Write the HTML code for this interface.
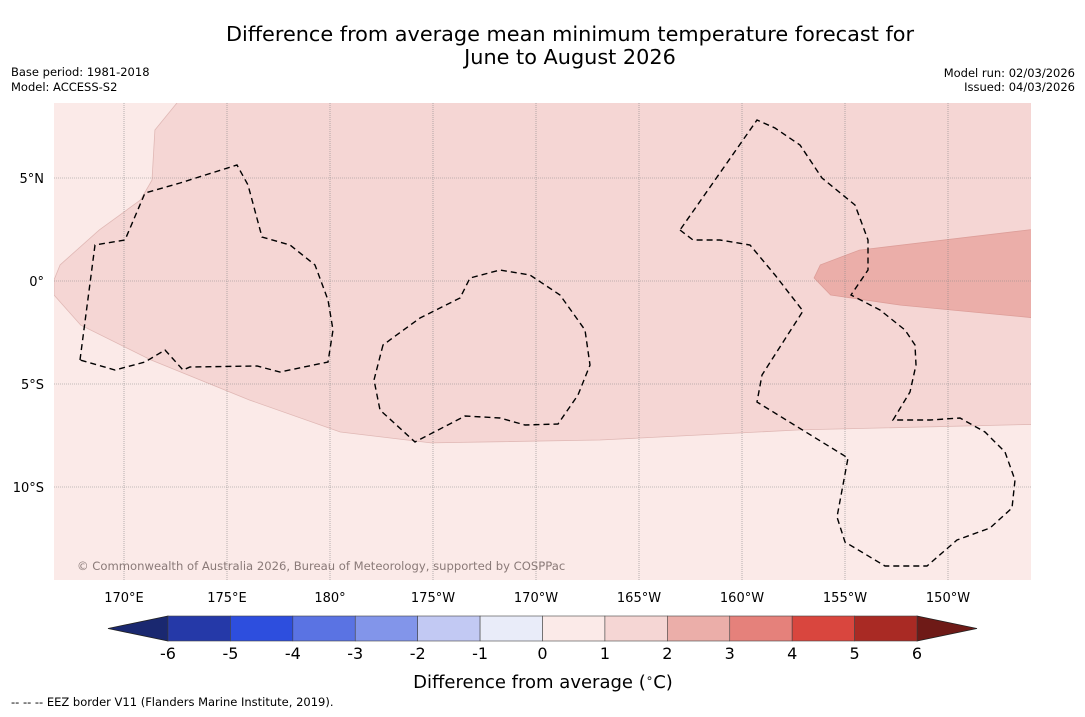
<!DOCTYPE html>
<html><head><meta charset="utf-8">
<style>
body{margin:0;background:#fff;width:1085px;height:713px;overflow:hidden;font-family:"DejaVu Sans","Liberation Sans",sans-serif;}
svg text{font-family:"DejaVu Sans","Liberation Sans",sans-serif;}
</style></head>
<body>
<svg id="chart" width="1085" height="713" xmlns="http://www.w3.org/2000/svg">
<text x="570" y="41" font-size="20.8" text-anchor="middle">Difference from average mean minimum temperature forecast for</text>
<text x="570" y="64" font-size="20.8" text-anchor="middle">June to August 2026</text>
<text x="11" y="76" font-size="11.5">Base period: 1981-2018</text>
<text x="11" y="91" font-size="11.5">Model: ACCESS-S2</text>
<text x="1075" y="77" font-size="11.5" text-anchor="end">Model run: 02/03/2026</text>
<text x="1075" y="91" font-size="11.5" text-anchor="end">Issued: 04/03/2026</text>
<defs><clipPath id="mapclip"><rect x="54" y="103" width="977" height="477"/></clipPath></defs>
<g id="map" clip-path="url(#mapclip)"></g>
<g id="axes"></g>
<g id="cbar"></g>
<text x="543" y="688" font-size="18" text-anchor="middle">Difference from average (<tspan font-size="12" dy="-6">∘</tspan><tspan dy="6">C)</tspan></text>
<text x="11" y="706" font-size="11.5">--  --  -- EEZ border V11 (Flanders Marine Institute, 2019).</text>
</svg>
<script>
const NS="http://www.w3.org/2000/svg";
// data
const lonTicks=[170,175,180,185,190,195,200,205,210];
const lonLabels=["170°E","175°E","180°","175°W","170°W","165°W","160°W","155°W","150°W"];
const latTicks=[5,0,-5,-10];
const latLabels=["5°N","0°","5°S","10°S"];
const cbLevels=[-6,-5,-4,-3,-2,-1,0,1,2,3,4,5,6];
const cbColors=["#2539a8","#2d4ede","#5a73e3","#8295ea","#c2c9f3","#e9ecf9","#fbeae8","#f5d6d4","#ebaea9","#e5817b","#d9463e","#a92a24"];
const bgValue=0.5;
const midZone=[[172.57,8.64],[171.5,7.33],[171.36,4.9],[170.8,3.93],[168.8,2.48],[166.9,0.78],[166.6,0.05],[166.6,-0.68],[167.9,-2.14],[171.3,-3.83],[176.1,-5.78],[180.5,-7.33],[184.9,-7.86],[193.1,-7.72],[202.8,-7.23],[214.5,-6.95],[214.5,9],[172.57,9]];
const midValue=1.5;
const highZone=[[214.5,2.55],[205.7,1.5],[203.8,0.78],[203.5,0.15],[204.3,-0.68],[207.7,-1.17],[214.5,-1.82]];
const highValue=2.5;

const X0=54,X1=1031,Y0=103,Y1=580,PPD=20.6;
const xs=lon=>124+(lon-170)*PPD;
const ys=lat=>281-lat*PPD;
const colorFor=v=>{for(let i=0;i<cbLevels.length-1;i++){if(v>=cbLevels[i]&&v<cbLevels[i+1])return cbColors[i];}return cbColors[cbColors.length-1];};
function el(tag,attrs,parent){const e=document.createElementNS(NS,tag);for(const k in attrs)e.setAttribute(k,attrs[k]);parent.appendChild(e);return e;}
const map=document.getElementById('map');
const bg=el('rect',{x:X0,y:Y0,width:X1-X0,height:Y1-Y0,fill:colorFor(bgValue)},map);


const pts=a=>a.map(p=>xs(p[0]).toFixed(1)+','+ys(p[1]).toFixed(1)).join(' ');
const mz=el('polygon',{points:pts(midZone),fill:colorFor(midValue),stroke:"#e0b8b5","stroke-width":0.8},map);


const hz=el('polygon',{points:pts(highZone),fill:colorFor(highValue),stroke:"#dd9e99","stroke-width":0.8},map);


// grid
const axes=document.getElementById('axes');
lonTicks.forEach((l,i)=>{
  const g=el('line',{x1:xs(l),x2:xs(l),y1:Y0,y2:Y1,stroke:"#888","stroke-width":0.6,"stroke-dasharray":"1,1"},map);
  
  
  const t=el('text',{x:xs(l),y:602,"font-size":13,"text-anchor":"middle"},axes);
  t.textContent=lonLabels[i];
  
  
});
latTicks.forEach((l,i)=>{
  const g=el('line',{x1:X0,x2:X1,y1:ys(l),y2:ys(l),stroke:"#888","stroke-width":0.6,"stroke-dasharray":"1,1"},map);
  
  
  const t=el('text',{x:44,y:ys(l)+5,"font-size":13,"text-anchor":"end"},axes);
  t.textContent=latLabels[i];
  
  
});
// EEZ borders (geographic outlines, pixel paths)
const eez=[
"M80,360 L95,245 L125,240 L145,193 L180,183 L237,165 L248,185 L262,237 L290,245 L315,265 L328,300 L333,330 L328,362 L280,372 L257,366 L190,367 L183,370 L165,350 L145,362 L115,370 Z",
"M383,345 L374,380 L380,410 L415,442 L465,416 L500,418 L525,425 L558,424 L578,395 L590,365 L585,330 L560,295 L530,275 L500,270 L470,278 L460,298 L420,318 Z",
"M680,230 L693,240 L720,240 L750,245 L775,275 L803,311 L778,350 L762,375 L757,402 L848,458 L837,517 L845,542 L885,566 L927,566 L957,540 L990,528 L1012,508 L1015,480 L1005,452 L985,432 L960,418 L930,420 L893,420 L910,392 L916,365 L915,345 L905,330 L880,310 L851,295 L868,270 L868,240 L855,205 L822,178 L800,145 L775,128 L757,120 Z"];
eez.forEach(d=>{const p=el('path',{d:d,fill:"none",stroke:"#000","stroke-width":1.4,"stroke-dasharray":"6,4"},map);

});
const cr=el('text',{x:77,y:570,"font-size":11.6,fill:"#8a7a78"},map);
cr.textContent="© Commonwealth of Australia 2026, Bureau of Meteorology, supported by COSPPac";


// colorbar
const cb=document.getElementById('cbar');
const CB0=168,CB1=917,CBY=616,CBH=25;
const cx=v=>CB0+(v-cbLevels[0])/(cbLevels[cbLevels.length-1]-cbLevels[0])*(CB1-CB0);
const la=el('polygon',{points:`${CB0},${CBY} 108,${CBY+CBH/2} ${CB0},${CBY+CBH}`,fill:"#1a2870",stroke:"#222","stroke-width":0.8},cb);


const ra=el('polygon',{points:`${CB1},${CBY} 977,${CBY+CBH/2} ${CB1},${CBY+CBH}`,fill:"#6e1a17",stroke:"#222","stroke-width":0.8},cb);


cbColors.forEach((c,i)=>{
  const r=el('rect',{x:cx(cbLevels[i]),y:CBY,width:cx(cbLevels[i+1])-cx(cbLevels[i]),height:CBH,fill:c,stroke:"#444","stroke-width":0.6},cb);
  
  
});
cbLevels.forEach(v=>{
  const t=el('text',{x:cx(v),y:659,"font-size":16,"text-anchor":"middle"},cb);
  t.textContent=String(v);
  
  
});
</script>
</body></html>
